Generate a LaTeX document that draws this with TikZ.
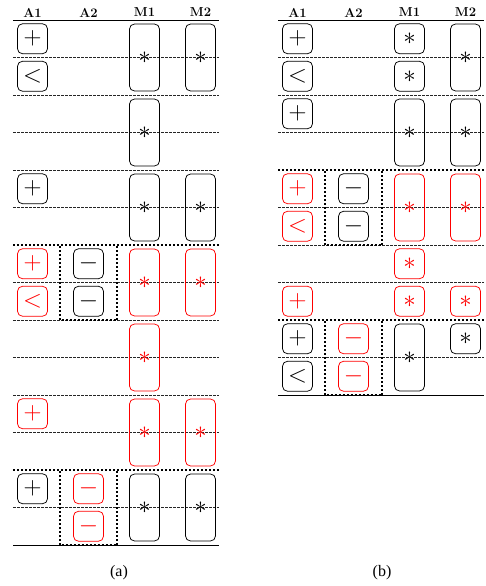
\documentclass[tikz,border=0pt]{standalone}
\usepackage{fontspec}
\newfontfamily\capfont{Liberation Serif}
\begin{document}
\begin{tikzpicture}[x=1pt,y=-1pt,
  op/.style={draw, rounded corners=5pt, line width=0.75pt, minimum width=30pt,
    minimum height=30pt, inner sep=0pt, font=\fontsize{24.88}{25}\selectfont},
  optall/.style={op, minimum height=67pt},
  hot/.style={draw=red, text=red},
  head/.style={font=\fontsize{13}{13}\selectfont\bfseries, inner sep=0pt},
  caption/.style={font=\capfont\fontsize{16}{16}\selectfont, inner sep=0pt},
  grid/.style={dash pattern=on 2.5pt off 1.5pt, line width=0.55pt, black!85},
  rule/.style={line width=0.9pt},
  fence/.style={line width=2pt, dash pattern=on 2pt off 2pt},
]
\useasboundingbox (0,0) rectangle (486,586);

% ---------------- schedule (a) ----------------
\begin{scope}
  \node[head] (a-hA1) at (32.5,12.5) {A1};
  \node[head] (a-hA2) at (88.5,12.5) {A2};
  \node[head] (a-hM1) at (144.5,12.5) {M1};
  \node[head] (a-hM2) at (200.5,12.5) {M2};
  \draw[rule] (13,20) -- (219,20);
  \foreach \y in {57.5,95,132.5,170,207.5,282.5,320,357.5,395,432.5,507.5}
    \draw[grid] (13,\y) -- (219,\y);
  \draw[fence] (13,245) -- (219,245);
  \draw[fence] (13,470) -- (219,470);
  % A2 enclosures hang below the full-width fence
  \draw[fence] (59.5,246) -- (59.5,320) -- (117,320) -- (117,246);
  \draw[fence] (59.5,471) -- (59.5,545) -- (117,545) -- (117,471);
  \draw[rule] (13,545) -- (219,545);

  \node[op] (a-p0) at (32.5,38.75) {$+$};
  \node[op] (a-l0) at (32.5,76.25) {$<$};
  \node[optall] (a-m10) at (144.5,57.5) {$\ast$};
  \node[optall] (a-m20) at (200.5,57.5) {$\ast$};

  \node[optall] (a-m11) at (144.5,132.5) {$\ast$};

  \node[op] (a-p2) at (32.5,188.75) {$+$};
  \node[optall] (a-m12) at (144.5,207.5) {$\ast$};
  \node[optall] (a-m22) at (200.5,207.5) {$\ast$};

  \node[op,hot] (a-p3) at (32.5,263.75) {$+$};
  \node[op,hot] (a-l3) at (32.5,301.25) {$<$};
  \node[op] (a-n3a) at (88.5,263.75) {$-$};
  \node[op] (a-n3b) at (88.5,301.25) {$-$};
  \node[optall,hot] (a-m13) at (144.5,282.5) {$\ast$};
  \node[optall,hot] (a-m23) at (200.5,282.5) {$\ast$};

  \node[optall,hot] (a-m14) at (144.5,357.5) {$\ast$};

  \node[op,hot] (a-p5) at (32.5,413.75) {$+$};
  \node[optall,hot] (a-m15) at (144.5,432.5) {$\ast$};
  \node[optall,hot] (a-m25) at (200.5,432.5) {$\ast$};

  \node[op] (a-p6) at (32.5,488.75) {$+$};
  \node[op,hot] (a-n6a) at (88.5,488.75) {$-$};
  \node[op,hot] (a-n6b) at (88.5,526.25) {$-$};
  \node[optall] (a-m16) at (144.5,507.5) {$\ast$};
  \node[optall] (a-m26) at (200.5,507.5) {$\ast$};
\end{scope}

% ---------------- schedule (b) ----------------
\begin{scope}[xshift=265pt]
  \node[head] (b-hA1) at (32.5,12.5) {A1};
  \node[head] (b-hA2) at (88.5,12.5) {A2};
  \node[head] (b-hM1) at (144.5,12.5) {M1};
  \node[head] (b-hM2) at (200.5,12.5) {M2};
  \draw[rule] (13,20) -- (219,20);
  \foreach \y in {57.5,95,132.5,207.5,245,282.5,357.5}
    \draw[grid] (13,\y) -- (219,\y);
  \draw[fence] (13,170) -- (219,170);
  \draw[fence] (13,320) -- (219,320);
  % A2 enclosures hang below the full-width fence
  \draw[fence] (59.5,171) -- (59.5,245) -- (117,245) -- (117,171);
  \draw[fence] (59.5,321) -- (59.5,395) -- (117,395) -- (117,321);
  \draw[rule] (13,395) -- (219,395);

  \node[op] (b-p0) at (32.5,38.75) {$+$};
  \node[op] (b-l0) at (32.5,76.25) {$<$};
  \node[op] (b-m10a) at (144.5,38.75) {$\ast$};
  \node[op] (b-m10b) at (144.5,76.25) {$\ast$};
  \node[optall] (b-m20) at (200.5,57.5) {$\ast$};

  \node[op] (b-p1) at (32.5,113.75) {$+$};
  \node[optall] (b-m11) at (144.5,132.5) {$\ast$};
  \node[optall] (b-m21) at (200.5,132.5) {$\ast$};

  \node[op,hot] (b-p2) at (32.5,188.75) {$+$};
  \node[op,hot] (b-l2) at (32.5,226.25) {$<$};
  \node[op] (b-n2a) at (88.5,188.75) {$-$};
  \node[op] (b-n2b) at (88.5,226.25) {$-$};
  \node[optall,hot] (b-m12) at (144.5,207.5) {$\ast$};
  \node[optall,hot] (b-m22) at (200.5,207.5) {$\ast$};

  \node[op,hot] (b-m13a) at (144.5,263.75) {$\ast$};
  \node[op,hot] (b-p3) at (32.5,301.25) {$+$};
  \node[op,hot] (b-m13b) at (144.5,301.25) {$\ast$};
  \node[op,hot] (b-m23) at (200.5,301.25) {$\ast$};

  \node[op] (b-p4) at (32.5,338.75) {$+$};
  \node[op] (b-l4) at (32.5,376.25) {$<$};
  \node[op,hot] (b-n4a) at (88.5,338.75) {$-$};
  \node[op,hot] (b-n4b) at (88.5,376.25) {$-$};
  \node[optall] (b-m14) at (144.5,357.5) {$\ast$};
  \node[op] (b-m24) at (200.5,338.75) {$\ast$};
\end{scope}

\node[caption] (cap-a) at (119,573) {(a)};
\node[caption] (cap-b) at (382,573) {(b)};
\end{tikzpicture}
\end{document}
